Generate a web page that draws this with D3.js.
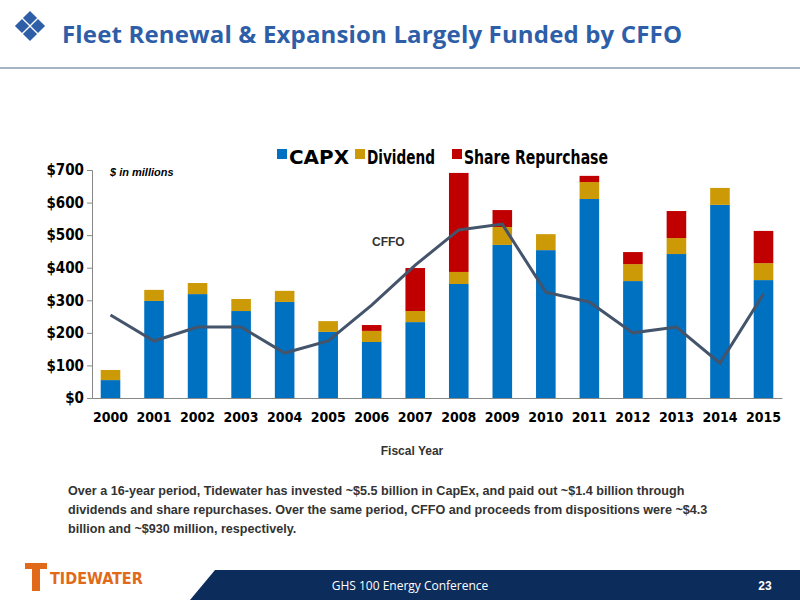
<!DOCTYPE html>
<html><head><meta charset="utf-8">
<script src="https://cdn.jsdelivr.net/npm/d3@7"></script>
<style>body{margin:0;background:#fff}</style>
</head><body><div id="chart"></div>
<script>
var years = ["2000","2001","2002","2003","2004","2005","2006","2007","2008","2009","2010","2011","2012","2013","2014","2015"];
var capx = [55,298,319,267,295,203,172,233,350,470,454,611,359,442,593,362];
var dividend = [31,34,34,37,34,33,34,34,37,55,49,52,52,49,52,52];
var repurchase = [0,0,0,0,0,0,18,132,304,52,0,19,37,83,0,99];
var cffo = [255,175,218,218,138,175,285,408,516,534,325,295,200,218,107,319];
var yTicks = [0,100,200,300,400,500,600,700];
var seriesNames = ["CAPX","Dividend","Share Repurchase"];
var colors = ["#0070c0","#cc9a06","#c00000"];
var narrow = "DejaVu Sans Condensed, Liberation Sans";

var svg = d3.select("#chart").append("svg").attr("width",800).attr("height",600)
  .style("font-family","Liberation Sans, Arial");

// header
var icon = svg.append("g").attr("fill","#2e5ea8");
[[30,18],[38,26],[30,34],[22,26]].forEach(function(p){
  icon.append("rect").attr("x",p[0]-5).attr("y",p[1]-5).attr("width",10).attr("height",10)
    .attr("transform","rotate(45,"+p[0]+","+p[1]+")");
});
svg.append("text").attr("x",62).attr("y",43).text("Fleet Renewal & Expansion Largely Funded by CFFO")
  .attr("fill","#2e5ea8").attr("font-size",24).attr("font-weight","bold").attr("textLength",620).style("font-family","Open Sans, Liberation Sans");
svg.append("line").attr("x1",0).attr("x2",800).attr("y1",68).attr("y2",68).attr("stroke","#8a9bb0").attr("stroke-width",1.5);

var margin = {left:92, top:170, right:782, bottom:398};
var x = d3.scaleBand().domain(years).range([margin.left,margin.right]).paddingInner(0.55).paddingOuter(0.2);
var y = d3.scaleLinear().domain([0,700]).range([margin.bottom,margin.top]);

var data = years.map(function(yr,i){ return {year:yr, CAPX:capx[i], Dividend:dividend[i], "Share Repurchase":repurchase[i]}; });
var stack = d3.stack().keys(seriesNames)(data);

svg.append("g").attr("transform","translate("+margin.left+",0)")
  .call(d3.axisLeft(y).tickValues(yTicks).tickFormat(function(d){return "$"+d;}).tickSize(5))
  .call(function(g){ g.selectAll("text").attr("font-size",15).attr("font-weight","bold").attr("fill","#000").style("font-family",narrow); g.selectAll("line,path").attr("stroke","#888"); });

svg.selectAll("g.series").data(stack).enter().append("g").attr("fill",function(d,i){return colors[i];})
  .selectAll("rect").data(function(d){return d;}).enter().append("rect")
  .attr("x",function(d){return x(d.data.year);}).attr("width",x.bandwidth())
  .attr("y",function(d){return y(d[1]);}).attr("height",function(d){return y(d[0])-y(d[1]);});

svg.append("g").attr("transform","translate(0,"+margin.bottom+")")
  .call(d3.axisBottom(x).tickSize(0).tickPadding(14))
  .call(function(g){ g.selectAll("text").attr("font-size",14).attr("font-weight","bold").attr("fill","#000").style("font-family",narrow); g.select("path").attr("stroke","#888"); });

var line = d3.line().x(function(d,i){return x(years[i])+x.bandwidth()/2;}).y(function(d){return y(d);});
svg.append("path").datum(cffo).attr("d",line).attr("fill","none").attr("stroke","#44546a").attr("stroke-width",3);

svg.append("text").attr("x",372).attr("y",246).text("CFFO").attr("font-size",12).attr("font-weight","bold").attr("fill","#333");
svg.append("text").attr("x",110).attr("y",176).text("$ in millions").attr("font-size",11).attr("font-weight","bold").attr("font-style","italic");
svg.append("text").attr("x",412).attr("y",455).attr("text-anchor","middle").text("Fiscal Year").attr("font-size",12).attr("font-weight","bold").attr("fill","#333");

// legend
var lx = [277,355,452], lw = [60,68,144];
seriesNames.forEach(function(n,i){
  svg.append("rect").attr("x",lx[i]).attr("y",149).attr("width",10).attr("height",10).attr("fill",colors[i]);
  svg.append("text").attr("x",lx[i]+12).attr("y",164).text(n).attr("font-size",19).attr("font-weight","bold")
    .attr("textLength",lw[i]).attr("lengthAdjust","spacingAndGlyphs")
    .style("font-family",narrow).attr("fill","#000");
});

// note
["Over a 16-year period, Tidewater has invested ~$5.5 billion in CapEx, and paid out ~$1.4 billion through",
 "dividends and share repurchases.  Over the same period, CFFO and proceeds from dispositions were ~$4.3",
 "billion and ~$930 million, respectively."].forEach(function(t,i){
  svg.append("text").attr("x",68).attr("y",495+i*19).text(t).attr("font-size",12.6).attr("font-weight","bold").attr("fill","#333");
});

// footer
svg.append("path").attr("d","M190,600 L215,570 L800,570 L800,600 Z").attr("fill","#0c2c5c");
svg.append("text").attr("x",410).attr("y",590).attr("text-anchor","middle").text("GHS 100 Energy Conference").attr("fill","#fff").attr("font-size",12).style("font-family","Open Sans");
svg.append("text").attr("x",765).attr("y",590).attr("text-anchor","middle").text("23").attr("fill","#fff").attr("font-size",12).attr("font-weight","bold");
svg.append("rect").attr("x",25).attr("y",563).attr("width",22).attr("height",6).attr("fill","#e06a1a");
svg.append("rect").attr("x",32).attr("y",563).attr("width",8).attr("height",28).attr("fill","#e06a1a");
svg.append("text").attr("x",50).attr("y",584).text("TIDEWATER").attr("fill","#e06a1a").attr("font-size",16).attr("font-weight","bold").style("font-family",narrow);
</script></body></html>
